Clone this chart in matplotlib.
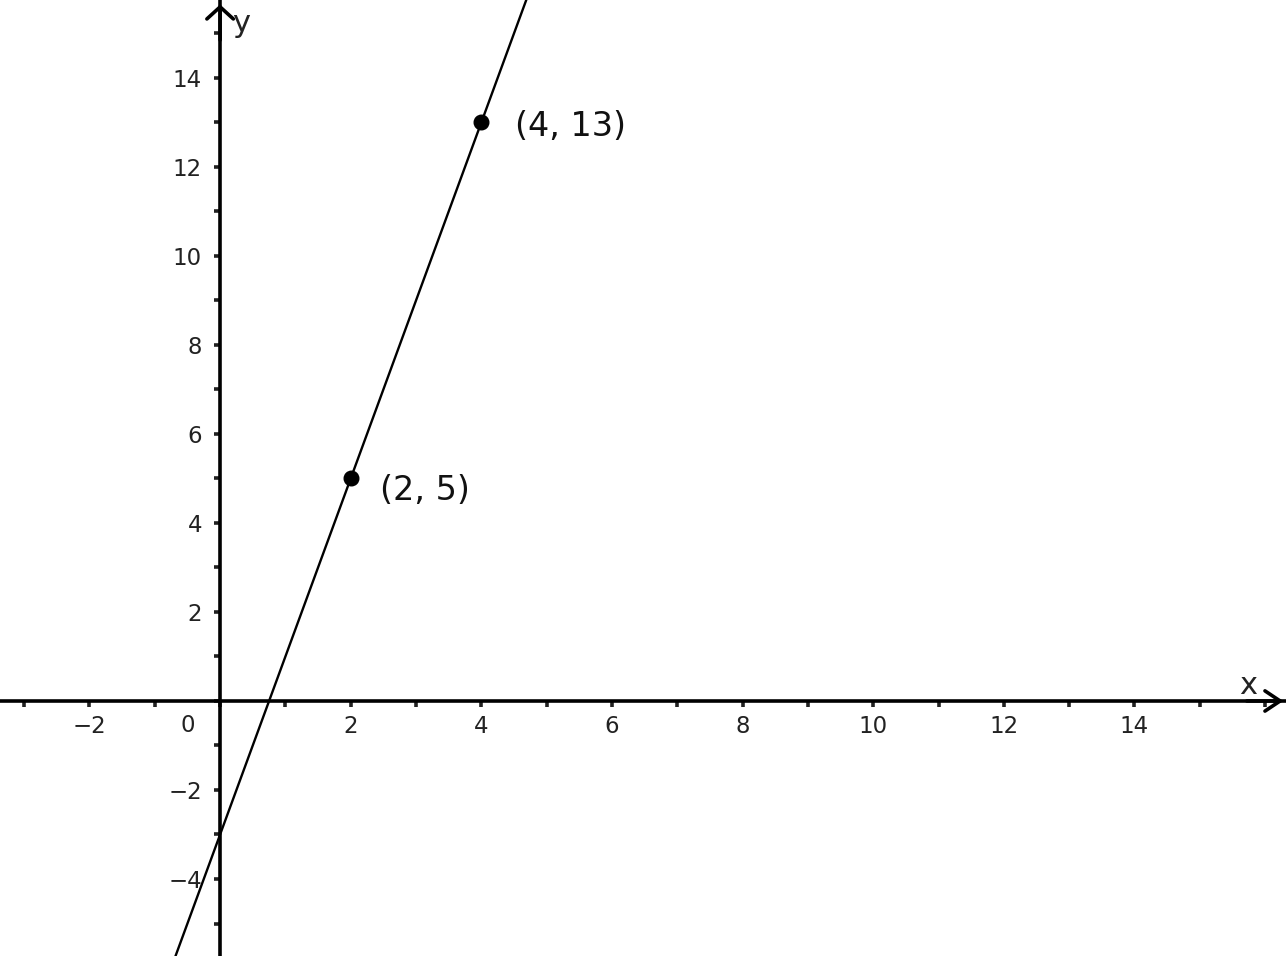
import matplotlib
matplotlib.use("Agg")
import matplotlib.pyplot as plt
import numpy as np
from matplotlib.ticker import MultipleLocator, FixedLocator

plt.rcParams['font.family'] = ['DejaVu Sans']

# Data
points_x = [2, 4]
points_y = [5, 13]
point_labels = ["(2, 5)", "(4, 13)"]
slope = 4
intercept = -3
x_ticks = [-2, 2, 4, 6, 8, 10, 12, 14]
y_ticks = [-4, -2, 2, 4, 6, 8, 10, 12, 14]

xmin, xmax = -3.37, 16.32
ymin, ymax = -5.73, 15.75

fig = plt.figure(figsize=(12.86, 9.56), dpi=100)
ax = fig.add_axes([0, 0, 1, 1])
ax.set_xlim(xmin, xmax)
ax.set_ylim(ymin, ymax)

for s in ['top', 'right']:
    ax.spines[s].set_visible(False)
ax.spines['left'].set_position(('data', 0))
ax.spines['bottom'].set_position(('data', 0))
ax.spines['left'].set_linewidth(2.6)
ax.spines['bottom'].set_linewidth(2.6)

ax.xaxis.set_major_locator(FixedLocator(x_ticks))
ax.yaxis.set_major_locator(FixedLocator(y_ticks))
ax.xaxis.set_minor_locator(MultipleLocator(1))
ax.yaxis.set_minor_locator(MultipleLocator(1))
ax.tick_params(which='both', direction='out', length=4, width=2.6, color='#222222')
ax.tick_params(axis='x', which='major', labelsize=16.5, pad=6, labelcolor='#222222')
ax.tick_params(axis='y', which='major', labelsize=16.5, pad=9, labelcolor='#222222')

# Axis arrows
ax.annotate('', xy=(xmax - 0.04, 0), xytext=(xmax - 0.6, 0),
            arrowprops=dict(arrowstyle='->, head_length=0.42, head_width=0.28', lw=2.6,
                            color='black', mutation_scale=26, shrinkA=0, shrinkB=0),
            annotation_clip=False)
ax.annotate('', xy=(0, ymax - 0.1), xytext=(0, ymax - 0.9),
            arrowprops=dict(arrowstyle='->, head_length=0.31, head_width=0.34', lw=2.6,
                            color='black', mutation_scale=28, shrinkA=0, shrinkB=0),
            annotation_clip=False)

ax.text(-0.49, -0.54, "0", fontsize=16.5, ha='center', va='center', color='#222222')
ax.text(15.74, 0.34, "x", fontsize=22, ha='center', va='center', color='#222222')
ax.text(0.32, 15.22, "y", fontsize=22, ha='center', va='center', color='#222222')

# Line
xs = np.array([xmin, xmax])
ax.plot(xs, slope * xs + intercept, color='black', lw=1.7)

# Points
ax.plot(points_x, points_y, 'o', color='black', markersize=10.5, zorder=5)
offsets = [(0.45, -0.28), (0.52, -0.1)]
for px, py, lab, (dx, dy) in zip(points_x, points_y, point_labels, offsets):
    ax.text(px + dx, py + dy, lab, fontsize=24, ha='left', va='center', color='#111111')

fig.savefig("out.png", dpi=100)
